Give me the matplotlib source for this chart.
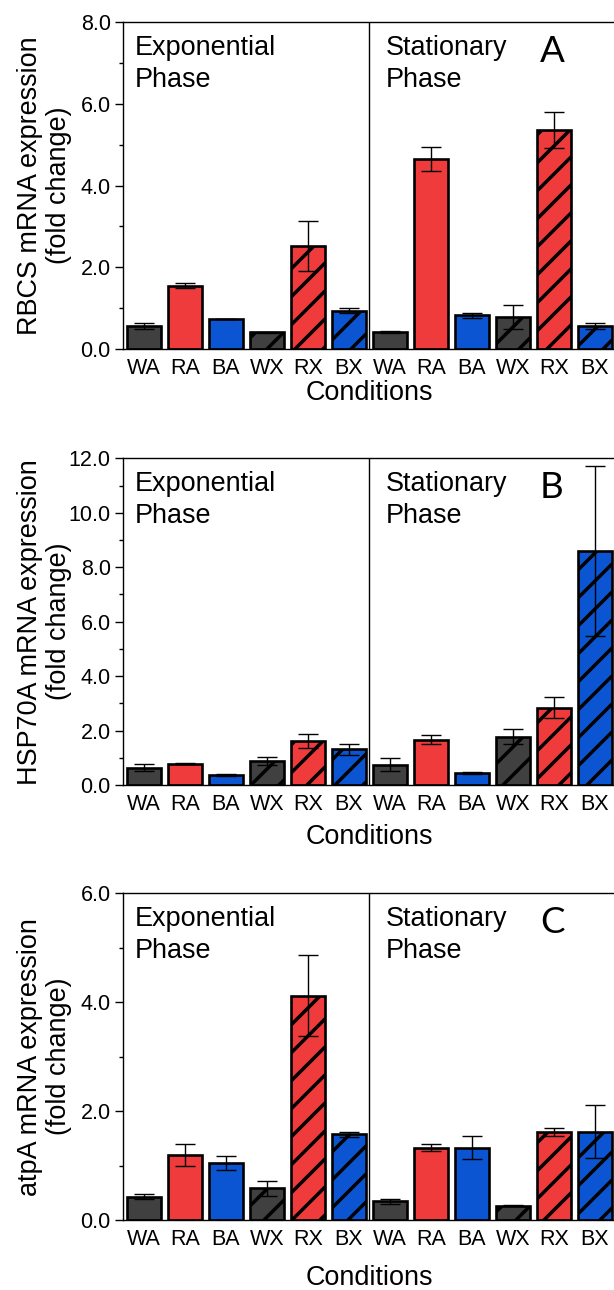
import numpy as np
import matplotlib
matplotlib.use("Agg")
import matplotlib.pyplot as plt
from matplotlib.ticker import MultipleLocator, FormatStrFormatter

# render at a lower dpi so the '/' hatch comes out denser; k keeps pixel sizes
DPI = 84
k = 100 / DPI

plt.rcParams['font.family'] = ['Liberation Sans', 'DejaVu Sans']
plt.rcParams['hatch.linewidth'] = 2.5 * k
plt.rcParams['hatch.color'] = 'black'

conditions = ["WA", "RA", "BA", "WX", "RX", "BX"] * 2

rbcs = [0.555, 1.55, 0.735, 0.41, 2.53, 0.94, 0.41, 4.65, 0.82, 0.78, 5.36, 0.555]
rbcs_err = [0.07, 0.06, 0.01, 0.01, 0.61, 0.07, 0.03, 0.30, 0.07, 0.30, 0.45, 0.07]

hsp = [0.64, 0.78, 0.37, 0.89, 1.61, 1.31, 0.75, 1.67, 0.44, 1.77, 2.84, 8.59]
hsp_err = [0.12, 0.01, 0.05, 0.15, 0.27, 0.21, 0.25, 0.16, 0.02, 0.27, 0.38, 3.13]

atpa = [0.43, 1.19, 1.05, 0.58, 4.12, 1.57, 0.34, 1.33, 1.33, 0.26, 1.61, 1.62]
atpa_err = [0.05, 0.20, 0.13, 0.14, 0.74, 0.04, 0.05, 0.07, 0.21, 0.01, 0.07, 0.49]

gray, red, blue = "#404040", "#EF3B3B", "#0B55D2"
colors = [gray, red, blue] * 4
hatches = ["", "", "", "/", "/", "/"] * 2

panels = [
    (rbcs, rbcs_err, "RBCS mRNA expression\n(fold change)", 8, "A", 0.7295, -0.095),
    (hsp, hsp_err, "HSP70A mRNA expression\n(fold change)", 12, "B", 0.3915, -0.12),
    (atpa, atpa_err, "atpA mRNA expression\n(fold change)", 6, "C", 0.0543, -0.138),
]

fig = plt.figure(figsize=(614 / DPI, 1290 / DPI), dpi=DPI)
x = np.arange(len(conditions))

for vals, errs, ylab, ymax, letter, bottom, xlab_y in panels:
    ax = fig.add_axes([0.1997, bottom, 0.8036, 0.2532])
    ax.bar(x, vals, width=0.82, color=colors, hatch=hatches,
           edgecolor="black", linewidth=1.9 * k, zorder=2)
    ax.errorbar(x, vals, yerr=errs, fmt="none", ecolor="black",
                elinewidth=1.0 * k, capsize=7.5 * k, capthick=1.0 * k, zorder=3)
    ax.axvline(5.5, color="black", lw=1.0 * k, zorder=1)
    ax.set_xlim(-0.517, 11.517)
    ax.set_ylim(0, ymax)
    ax.yaxis.set_major_locator(MultipleLocator(2))
    ax.yaxis.set_minor_locator(MultipleLocator(1))
    ax.yaxis.set_major_formatter(FormatStrFormatter("%.1f"))
    ax.set_xticks(x)
    ax.set_xticklabels(conditions)
    ax.tick_params(axis="x", length=0, pad=6.5 * k, labelsize=15.5 * k)
    ax.tick_params(axis="y", which="major", direction="out", length=5.5 * k,
                   width=1.0 * k, pad=3.0 * k, labelsize=15.5 * k)
    ax.tick_params(axis="y", which="minor", direction="out", length=3.2 * k,
                   width=1.0 * k)
    for s in ax.spines.values():
        s.set_linewidth(1.0 * k)
    ax.set_ylabel(ylab, fontsize=19.4 * k, linespacing=1.15)
    ax.yaxis.set_label_coords(-0.103, 0.5)
    ax.set_xlabel("Conditions", fontsize=19.4 * k)
    ax.xaxis.set_label_coords(0.5, xlab_y)
    ax.text(0.025, 0.962, "Exponential\nPhase", transform=ax.transAxes,
            fontsize=19.4 * k, va="top", ha="left", linespacing=1.3)
    ax.text(0.533, 0.962, "Stationary\nPhase", transform=ax.transAxes,
            fontsize=19.4 * k, va="top", ha="left", linespacing=1.3)
    ax.text(0.846, 0.962, letter, transform=ax.transAxes, fontsize=26.5 * k,
            va="top", ha="left", family=["Lato", "DejaVu Sans"])

fig.savefig("out.png", dpi=DPI)
